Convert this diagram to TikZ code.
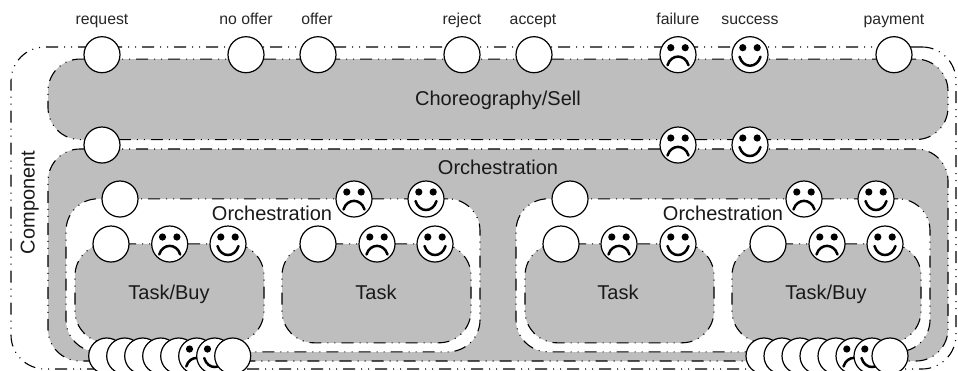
\documentclass[tikz,border=0pt]{standalone}
\usepackage{fontspec}
\setmainfont{Liberation Sans}
\definecolor{boxgray}{gray}{0.745}
\tikzset{
  x=1pt,y=-1pt,
  boxline/.style={draw=black,line width=1.1pt,dash pattern=on 12pt off 6pt on 1pt off 6pt on 1pt off 6pt},
  outerbox/.style={boxline,fill=white,rounded corners=34pt,inner sep=0pt,minimum width=945pt,minimum height=322pt},
  graybox/.style={boxline,fill=boxgray,rounded corners=32pt,inner sep=0pt},
  whitebox/.style={boxline,fill=white,rounded corners=32pt,inner sep=0pt,minimum width=414pt,minimum height=153pt},
  taskbox/.style={boxline,fill=boxgray,rounded corners=32pt,inner sep=0pt,minimum width=189pt,minimum height=99pt},
  port/.style={circle,draw=black,line width=1.2pt,fill=white,minimum size=36pt,inner sep=0pt},
  frown/.style={port,path picture={
    \fill[black] ([xshift=-7.2pt,yshift=7pt]path picture bounding box.center) circle (3.6pt);
    \fill[black] ([xshift=7.2pt,yshift=7pt]path picture bounding box.center) circle (3.6pt);
    \draw[black,line width=2.5pt,line cap=round] ([xshift=-10.5pt,yshift=-10.5pt]path picture bounding box.center)
      .. controls ([xshift=-7pt,yshift=1pt]path picture bounding box.center) and ([xshift=7pt,yshift=1pt]path picture bounding box.center)
      .. ([xshift=10.5pt,yshift=-10.5pt]path picture bounding box.center);}},
  smile/.style={port,path picture={
    \fill[black] ([xshift=-7.2pt,yshift=7pt]path picture bounding box.center) circle (3.6pt);
    \fill[black] ([xshift=7.2pt,yshift=7pt]path picture bounding box.center) circle (3.6pt);
    \draw[black,line width=2.5pt,line cap=round] ([xshift=-10.5pt,yshift=-2pt]path picture bounding box.center)
      .. controls ([xshift=-7pt,yshift=-14pt]path picture bounding box.center) and ([xshift=7pt,yshift=-14pt]path picture bounding box.center)
      .. ([xshift=10.5pt,yshift=-2pt]path picture bounding box.center);}},
  toplabel/.style={font=\fontsize{15.8pt}{18pt}\selectfont,text=black!85,inner sep=0pt,anchor=base},
  mainlabel/.style={font=\fontsize{20pt}{22pt}\selectfont,text=black!90,inner sep=0pt,anchor=base},
}
\begin{document}
\begin{tikzpicture}
\useasboundingbox (0,0) rectangle (958,370);
\clip (0,0) rectangle (958,370);
\node[outerbox] (component) at (483.5,208) {};
\node[graybox,minimum width=900pt,minimum height=80.5pt] (choreo) at (498,99.3) {};
\node[graybox,minimum width=900pt,minimum height=212pt] (orch) at (498,255) {};
\node[whitebox] (orchL) at (273,275.3) {};
\node[whitebox] (orchR) at (723,275.3) {};
\node[taskbox] (t1) at (169.5,293.3) {};
\node[taskbox] (t2) at (376.5,293.3) {};
\node[taskbox] (t3) at (619.5,293.3) {};
\node[taskbox] (t4) at (826.5,293.3) {};
% labels
\node[mainlabel] (lchoreo) at (498,105) {Choreography/Sell};
\node[mainlabel] (lorch) at (498,174) {Orchestration};
\node[mainlabel] (lorchL) at (272,220.5) {Orchestration};
\node[mainlabel] (lorchR) at (723,220.5) {Orchestration};
\node[mainlabel] (lt1) at (169,299) {Task/Buy};
\node[mainlabel] (lt2) at (376,299) {Task};
\node[mainlabel] (lt3) at (618,299) {Task};
\node[mainlabel] (lt4) at (826,299) {Task/Buy};
\node[mainlabel,rotate=90] (lcomp) at (34.5,202.5) {Component};
\node[toplabel] (l1) at (102,24) {request};
\node[toplabel] (l2) at (246,24) {no offer};
\node[toplabel] (l3) at (317,24) {offer};
\node[toplabel] (l4) at (462,24) {reject};
\node[toplabel] (l5) at (533,24) {accept};
\node[toplabel] (l6) at (678,24) {failure};
\node[toplabel] (l7) at (750,24) {success};
\node[toplabel] (l8) at (894,24) {payment};
% top row
\node[port] (a1) at (102,54.7) {};
\node[port] (a2) at (246,54.7) {};
\node[port] (a3) at (318,54.7) {};
\node[port] (a4) at (462,54.7) {};
\node[port] (a5) at (534,54.7) {};
\node[frown] (a6) at (678,54.7) {};
\node[smile] (a7) at (750,54.7) {};
\node[port] (a8) at (894,54.7) {};
% second row
\node[port] (b1) at (102,145) {};
\node[frown] (b2) at (678,145) {};
\node[smile] (b3) at (750,145) {};
% third row
\node[port] (c1) at (120,199) {};
\node[frown] (c2) at (354,199) {};
\node[smile] (c3) at (426,199) {};
\node[port] (c4) at (570,199) {};
\node[frown] (c5) at (804,199) {};
\node[smile] (c6) at (876,199) {};
% fourth row
\node[port] (d1) at (111,244) {};
\node[frown] (d2) at (169.7,244) {};
\node[smile] (d3) at (228,244) {};
\node[port] (d4) at (318,244) {};
\node[frown] (d5) at (377,244) {};
\node[smile] (d6) at (435,244) {};
\node[port] (d7) at (561,244) {};
\node[frown] (d8) at (619,244) {};
\node[smile] (d9) at (678,244) {};
\node[port] (d10) at (768,244) {};
\node[frown] (d11) at (827,244) {};
\node[smile] (d12) at (885,244) {};
% bottom stacks
\node[port] (e1) at (106.7,356) {};
\node[port] (e2) at (124.7,356) {};
\node[port] (e3) at (142.7,356) {};
\node[port] (e4) at (160.7,356) {};
\node[port] (e5) at (178.7,356) {};
\node[frown] (e6) at (196.7,356) {};
\node[smile] (e7) at (214.7,356) {};
\node[port] (e8) at (232.7,356) {};
\node[port] (f1) at (764,356) {};
\node[port] (f2) at (782,356) {};
\node[port] (f3) at (800,356) {};
\node[port] (f4) at (818,356) {};
\node[port] (f5) at (836,356) {};
\node[frown] (f6) at (854,356) {};
\node[smile] (f7) at (872,356) {};
\node[port] (f8) at (890,356) {};
\end{tikzpicture}
\end{document}
